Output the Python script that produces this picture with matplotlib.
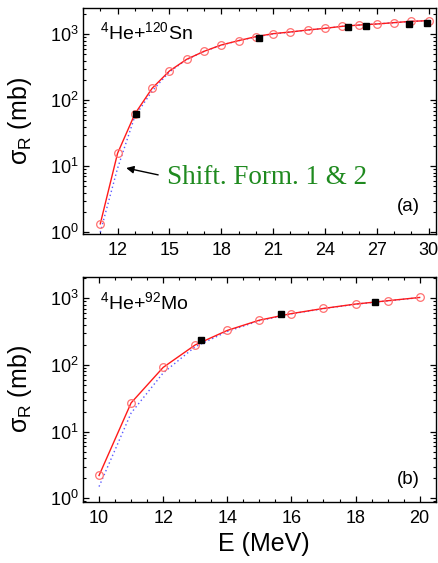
import matplotlib
matplotlib.use('Agg')
import matplotlib.pyplot as plt
from matplotlib.ticker import MultipleLocator, LogLocator, NullFormatter

plt.rcParams['font.family'] = ['Liberation Sans', 'DejaVu Sans']
plt.rcParams['mathtext.fontset'] = 'custom'
plt.rcParams['mathtext.rm'] = 'Liberation Sans'
plt.rcParams['mathtext.it'] = 'Liberation Sans:italic'
plt.rcParams['mathtext.bf'] = 'Liberation Sans:bold'

# ---- 4He + 120Sn ----
sn_E = [11, 12, 13, 14, 15, 16, 17, 18, 19, 20, 21, 22, 23, 24, 25, 26, 27, 28, 29, 30]
sn_shift = [1.34, 15.7, 62, 152, 278, 418, 552, 689, 802, 922, 1023, 1085, 1163, 1233,
            1322, 1385, 1434, 1503, 1575, 1611]
sn_other = [1.0, 9.3, 57, 138, 270, 415, 550, 685, 800, 915, 1015, 1080, 1160, 1230,
            1320, 1385, 1435, 1500, 1570, 1605]
sn_exp_E = [13.05, 20.2, 25.35, 26.35, 28.85, 29.9]
sn_exp = [62, 871, 1280, 1336, 1440, 1500]

# ---- 4He + 92Mo ----
mo_E = [10, 11, 12, 13, 14, 15, 16, 17, 18, 19, 20]
mo_shift = [2.2, 27, 92, 200, 330, 470, 590, 705, 820, 920, 1030]
mo_other = [1.5, 19, 76, 188, 318, 462, 585, 700, 815, 915, 1025]
mo_exp_E = [13.17, 15.67, 18.61]
mo_exp = [234, 589, 881]

W, H = 438, 563
fig = plt.figure(figsize=(W / 100, H / 100), dpi=100)

def frac(l, t, r, b):
    return [l / W, 1 - b / H, (r - l) / W, (b - t) / H]

ax1 = fig.add_axes(frac(83, 8.3, 435.5, 234))
ax2 = fig.add_axes(frac(83, 276.7, 435.7, 501.7))

red = '#ff1a1a'
redm = '#ff7070'
blue = '#5a5aff'

def draw(ax, E, shift, other, eE, ev):
    ax.plot(E, other, color=blue, lw=1.0, ls=(0, (1, 2)), zorder=2)
    ax.plot(E, shift, color=red, lw=1.0, marker='o', ms=5.5, mfc='none',
            mec=redm, mew=0.9, zorder=3)
    ax.plot(eE, ev, ls='none', marker='s', ms=5, color='black', zorder=4)
    ax.set_yscale('log')
    ax.yaxis.set_major_locator(LogLocator(base=10, numticks=10))
    ax.yaxis.set_minor_locator(LogLocator(base=10, subs=range(2, 10), numticks=10))
    ax.yaxis.set_minor_formatter(NullFormatter())
    ax.tick_params(which='both', direction='in', top=True, right=True, labelsize=13)
    ax.tick_params(which='major', length=4.5, width=0.9)
    ax.tick_params(which='minor', length=2.5, width=0.8)
    ax.tick_params(axis='x', pad=6)
    ax.tick_params(axis='y', pad=3)
    for s in ax.spines.values():
        s.set_linewidth(1.0)
    ax.set_ylabel('σ$_\\mathrm{R}$ (mb)', fontsize=18)
    ax.yaxis.set_label_coords(-0.139, 0.5)

draw(ax1, sn_E, sn_shift, sn_other, sn_exp_E, sn_exp)
ax1.set_xlim(10, 30.4)
ax1.set_ylim(0.94, 2480)
ax1.xaxis.set_major_locator(MultipleLocator(3))
ax1.xaxis.set_minor_locator(MultipleLocator(1))
ax1.text(0.048, 0.864, r'$^{4}$He+$^{120}$Sn', transform=ax1.transAxes,
         fontsize=14, va='baseline', ha='left')
ax1.text(0.922, 0.12, '(a)', transform=ax1.transAxes, fontsize=13.5,
         va='center', ha='center')
ax1.annotate('', xy=(12.5, 9.4), xytext=(14.35, 7.4),
             arrowprops=dict(arrowstyle='-|>', color='black', lw=1.0,
                             mutation_scale=11, shrinkA=0, shrinkB=0))
ax1.text(14.85, 6.8, 'Shift. Form. 1 & 2', fontsize=19.5, color='#1f8a1f',
         family=['Liberation Serif', 'DejaVu Serif'], va='center', ha='left')

draw(ax2, mo_E, mo_shift, mo_other, mo_exp_E, mo_exp)
ax2.set_xlim(9.5, 20.5)
ax2.set_ylim(0.89, 2110)
ax2.xaxis.set_major_locator(MultipleLocator(2))
ax2.xaxis.set_minor_locator(MultipleLocator(0.5))
ax2.text(0.048, 0.855, r'$^{4}$He+$^{92}$Mo', transform=ax2.transAxes,
         fontsize=14, va='baseline', ha='left')
ax2.text(0.922, 0.10, '(b)', transform=ax2.transAxes, fontsize=13.5,
         va='center', ha='center')
ax2.set_xlabel('E (MeV)', fontsize=18)
ax2.xaxis.set_label_coords(0.513, -0.135)

fig.savefig('out.png', dpi=100)
